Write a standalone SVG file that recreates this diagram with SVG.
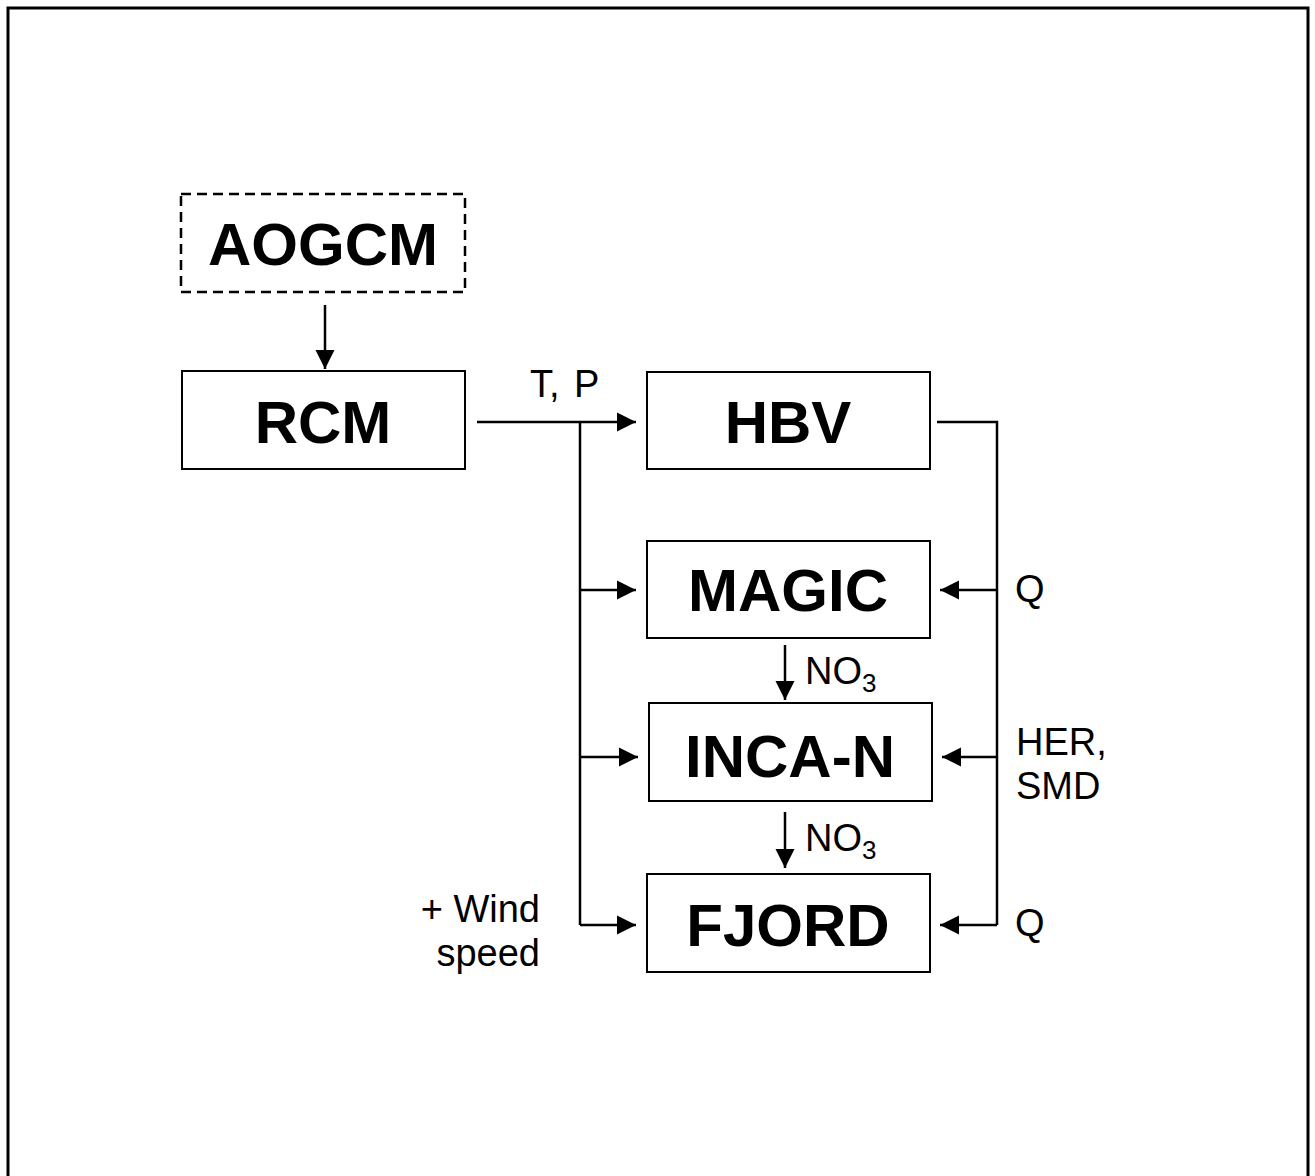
<svg xmlns="http://www.w3.org/2000/svg" width="1315" height="1176" viewBox="0 0 1315 1176">
<style>
.box{fill:#fff;stroke:#000;stroke-width:2}
.dash{fill:#fff;stroke:#000;stroke-width:2.5;stroke-dasharray:10 6}
.big{font-family:"Liberation Sans",Arial,sans-serif;font-weight:bold;font-size:60px;text-anchor:middle}
.lbl{font-family:"Liberation Sans",Arial,sans-serif;font-size:38px}
.ln{fill:none;stroke:#000;stroke-width:2.5}
</style>
<defs>
<marker id="ah" markerWidth="20" markerHeight="20" refX="19" refY="10" orient="auto" markerUnits="userSpaceOnUse">
<path d="M0,0.5 L19,10 L0,19.5 Z" fill="#000"/>
</marker>
</defs>
<rect x="8" y="8" width="1300" height="1180" fill="#fff" stroke="#000" stroke-width="3"/>
<g id="AOGCM"><rect class="dash" x="181" y="194" width="284" height="98"/><text class="big" x="323" y="265">AOGCM</text></g>
<g id="RCM"><rect class="box" x="182" y="371" width="283" height="98"/><text class="big" x="323" y="443">RCM</text></g>
<g id="HBV"><rect class="box" x="647" y="372" width="283" height="97"/><text class="big" x="788" y="443">HBV</text></g>
<g id="MAGIC"><rect class="box" x="647" y="541" width="283" height="97"/><text class="big" x="788" y="611">MAGIC</text></g>
<g id="INCA-N"><rect class="box" x="649" y="703" width="283" height="98"/><text class="big" x="790" y="777">INCA-N</text></g>
<g id="FJORD"><rect class="box" x="647" y="874" width="283" height="98"/><text class="big" x="788" y="946">FJORD</text></g>
<g id="connectors">
<line class="ln" x1="325" y1="305" x2="325" y2="369" marker-end="url(#ah)"/>
<line class="ln" x1="477" y1="422" x2="636" y2="422" marker-end="url(#ah)"/>
<line class="ln" x1="580" y1="422" x2="580" y2="925"/>
<line class="ln" x1="580" y1="590" x2="636" y2="590" marker-end="url(#ah)"/>
<line class="ln" x1="580" y1="757" x2="638" y2="757" marker-end="url(#ah)"/>
<line class="ln" x1="580" y1="925" x2="636" y2="925" marker-end="url(#ah)"/>
<polyline class="ln" points="937,422 997,422 997,925"/>
<line class="ln" x1="997" y1="590" x2="940" y2="590" marker-end="url(#ah)"/>
<line class="ln" x1="997" y1="757" x2="942" y2="757" marker-end="url(#ah)"/>
<line class="ln" x1="997" y1="925" x2="940" y2="925" marker-end="url(#ah)"/>
<line class="ln" x1="785" y1="645" x2="785" y2="700" marker-end="url(#ah)"/>
<line class="ln" x1="785" y1="812" x2="785" y2="868" marker-end="url(#ah)"/>
</g>
<g id="labels">
<text class="lbl" x="530" y="397" word-spacing="4">T, P</text>
<text class="lbl" x="1015" y="602">Q</text>
<text class="lbl" x="1016" y="755">HER,</text>
<text class="lbl" x="1016" y="799">SMD</text>
<text class="lbl" x="1015" y="936">Q</text>
<text class="lbl" x="540" y="922" text-anchor="end">+ Wind</text>
<text class="lbl" x="540" y="966" text-anchor="end">speed</text>
<text class="lbl" x="805" y="684" font-size="36">NO<tspan font-size="26" dy="8">3</tspan></text>
<text class="lbl" x="805" y="851" font-size="36">NO<tspan font-size="26" dy="8">3</tspan></text>
</g>
</svg>
